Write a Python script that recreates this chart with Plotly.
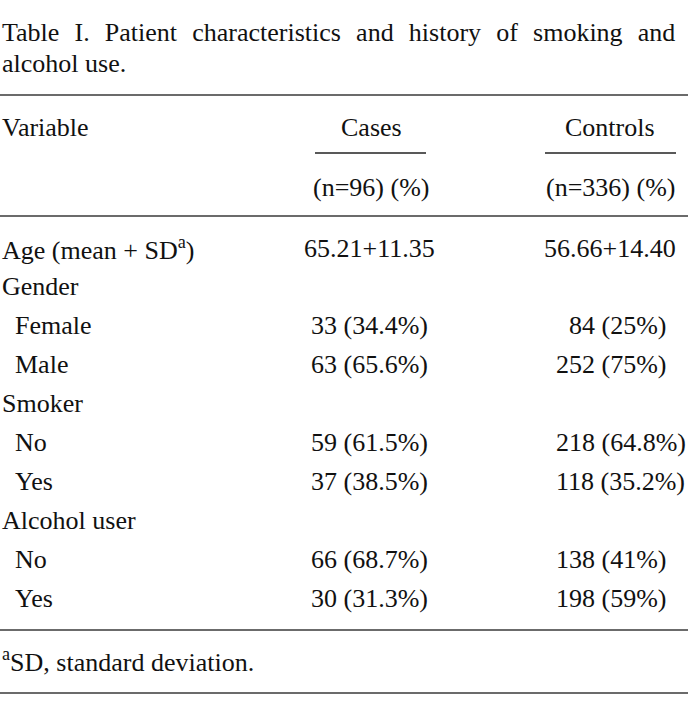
import plotly.graph_objects as go

title_lines = ["Table I. Patient characteristics and history of smoking and", "alcohol use."]
col_headers = ["Variable", "Cases", "Controls"]
col_subheaders = ["", "(n=96) (%)", "(n=336) (%)"]
variables = ["Age (mean + SD<sup>a</sup>)", "Gender", "Female", "Male", "Smoker", "No", "Yes",
             "Alcohol user", "No", "Yes"]
levels = [0, 0, 1, 1, 0, 1, 1, 0, 1, 1]
cases = ["65.21+11.35", "", "33 (34.4%)", "63 (65.6%)", "", "59 (61.5%)", "37 (38.5%)",
         "", "66 (68.7%)", "30 (31.3%)"]
controls = ["56.66+14.40", "", "\u200784 (25%)", "252 (75%)", "", "218 (64.8%)", "118 (35.2%)",
            "", "138 (41%)", "198 (59%)"]
footnote = "<sup>a</sup>SD, standard deviation."

W, H = 688, 716
FONT = dict(family="Liberation Serif, Times New Roman, serif", size=26, color="#111111")

fig = go.Figure()
ann = []

def txt(x, y, s, anchor="left", font=FONT):
    ann.append(dict(x=x, y=y, xref="x", yref="y", text=s, showarrow=False,
                    xanchor=anchor, yanchor="middle", font=font, align=anchor))

# title (first line justified by widening the word gaps)
for i, line in enumerate(title_lines):
    s = line.replace(" ", "\u2002\u200a") if i < len(title_lines) - 1 else line
    txt(0, 32 + i * 31, s)

# headers
txt(0, 127, col_headers[0])
txt(371, 127, col_headers[1], "center")
txt(610, 127, col_headers[2], "center")
txt(371, 187, col_subheaders[1], "center")
txt(610, 187, col_subheaders[2], "center")

# body
y0, step = 248, 38.9
for i, (v, lv, c, k) in enumerate(zip(variables, levels, cases, controls)):
    y = y0 + i * step
    txt(13 if lv else 0, y, v)
    if c:
        txt(369, y, c, "center")
    if k:
        if i == 0:
            txt(610, y, k, "center")
        else:
            txt(554, y, k, "left")

txt(0, 660, footnote)

shapes = []
def hline(x0, x1, y, w=1.6, color="#3a3a3a"):
    shapes.append(dict(type="line", xref="x", yref="y", x0=x0, x1=x1, y0=y, y1=y,
                       line=dict(color=color, width=w)))

hline(0, W, 95)
hline(315, 426, 153, 1.3, "#222222")
hline(545, 676, 153, 1.3, "#222222")
hline(0, W, 216)
hline(0, W, 630)
hline(0, W, 693)

fig.update_layout(
    width=W, height=H, margin=dict(l=0, r=0, t=0, b=0),
    paper_bgcolor="white", plot_bgcolor="white",
    xaxis=dict(range=[0, W], visible=False, fixedrange=True),
    yaxis=dict(range=[H, 0], visible=False, fixedrange=True),
    annotations=ann, shapes=shapes, showlegend=False,
)
fig.write_html("out.html", config={"displayModeBar": False},
               post_script="document.body.style.margin='0';document.body.style.overflow='hidden';")
